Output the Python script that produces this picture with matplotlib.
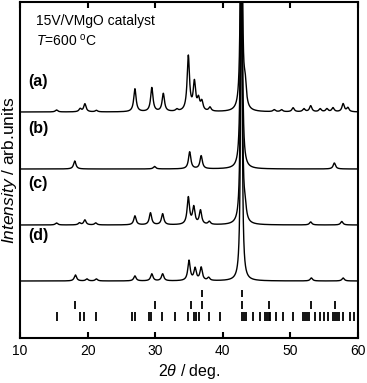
import numpy as np
import matplotlib
matplotlib.use("Agg")
import matplotlib.pyplot as plt

plt.rcParams['font.family'] = ['Liberation Sans', 'DejaVu Sans']
plt.rcParams['mathtext.fontset'] = 'custom'
plt.rcParams['mathtext.rm'] = 'Liberation Sans'
plt.rcParams['mathtext.it'] = 'Liberation Sans:italic'

# Peak lists: 2theta positions and heights
peaks_a_pos = [15.4, 18.9, 19.6, 21.3, 27.0, 29.5, 31.2, 33.2, 34.9, 35.8, 36.4, 36.9, 38.1, 42.75, 43.3,
               47.6, 48.7, 50.4, 52.0, 53.0, 54.4, 55.4, 56.3, 57.8, 58.5]
peaks_a_h = [2, 3, 8, 1.5, 23, 24, 18, 2, 55, 28, 11, 9, 4, 400, 22,
             2, 2, 4, 3, 6, 3, 3, 4, 8, 4]
peaks_b_pos = [18.1, 29.9, 35.1, 36.8, 42.75, 56.5]
peaks_b_h = [8, 2.5, 17, 13, 400, 6]
peaks_c_pos = [15.4, 18.8, 19.6, 21.2, 27.0, 29.3, 31.1, 34.9, 35.7, 36.7, 38.0, 42.75, 43.3, 53.0, 57.6]
peaks_c_h = [2, 2, 5, 2, 9, 12, 11, 27, 17, 14, 3, 400, 12, 3, 3.5]
peaks_d_pos = [18.2, 19.9, 21.3, 27.0, 29.5, 31.1, 35.0, 35.9, 36.8, 37.9, 42.75, 53.1, 57.8]
peaks_d_h = [6, 2, 2, 5, 7, 7, 20, 12, 13, 3, 400, 3, 3]

# reference tick marks
ref1 = [36.9, 42.8]
ref2 = [18.2, 29.9, 35.25, 36.85, 42.8, 46.8, 53.0, 56.55]
ref3 = [15.4, 18.9, 19.5, 21.3, 26.5, 27.0, 29.1, 29.4, 31.05, 33.0, 34.9, 35.8, 36.1, 36.5, 37.9, 39.6,
        42.8, 43.1, 43.4, 44.5, 45.5, 46.3, 46.5, 46.8, 47.0, 47.9, 48.9, 50.4,
        51.9, 52.2, 52.5, 52.8, 53.6, 54.4, 54.9, 55.6, 56.3, 56.6, 56.9, 57.2, 57.8, 58.8, 59.4]

labels = ['(a)', '(b)', '(c)', '(d)']
offsets = [226, 169, 113, 57]

x = np.linspace(10, 60, 5000)

def profile(pos, h, base):
    y = np.full_like(x, base, dtype=float)
    for p, hh in zip(pos, h):
        w = 0.12 if hh > 100 else 0.21
        y += hh / (1 + ((x - p) / w) ** 2)
    return y

fig = plt.figure(figsize=(3.67, 3.83), dpi=100)
ax = fig.add_axes([20/367, (383-338)/383, 338/367, 336/383])

for pos, h, off in zip([peaks_a_pos, peaks_b_pos, peaks_c_pos, peaks_d_pos],
                       [peaks_a_h, peaks_b_h, peaks_c_h, peaks_d_h], offsets):
    ax.plot(x, profile(pos, h, off), color='black', lw=1.0)

ax.vlines(ref1, 41, 48, color='black', lw=1.3)
ax.vlines(ref2, 29, 37, color='black', lw=1.3)
ax.vlines(ref3, 17, 26, color='black', lw=1.3)

ax.set_xlim(10, 60)
ax.set_ylim(0, 336)
ax.set_yticks([])
ax.set_xticks([10, 20, 30, 40, 50, 60])
ax.tick_params(axis='x', direction='in', top=True, length=4, width=1.5, labelsize=10, pad=4)
for s in ax.spines.values():
    s.set_linewidth(1.5)

label_y = [256, 209, 154, 102]
for lab, ly in zip(labels, label_y):
    ax.text(11.15, ly, lab, fontsize=11.5, fontweight='bold', va='center', ha='left')

ax.text(12.3, 317, '15V/VMgO catalyst', fontsize=10, va='center', ha='left')
ax.text(12.3, 297, r'$T$=600 $^{\rm o}$C', fontsize=10, va='center', ha='left')

ax.set_xlabel(r'2$\theta$ / deg.', fontsize=11.5, labelpad=3)
ax.set_ylabel(r'$Intensity$ / arb.units', fontsize=12.5, labelpad=1)

fig.savefig('out.png', dpi=100)
